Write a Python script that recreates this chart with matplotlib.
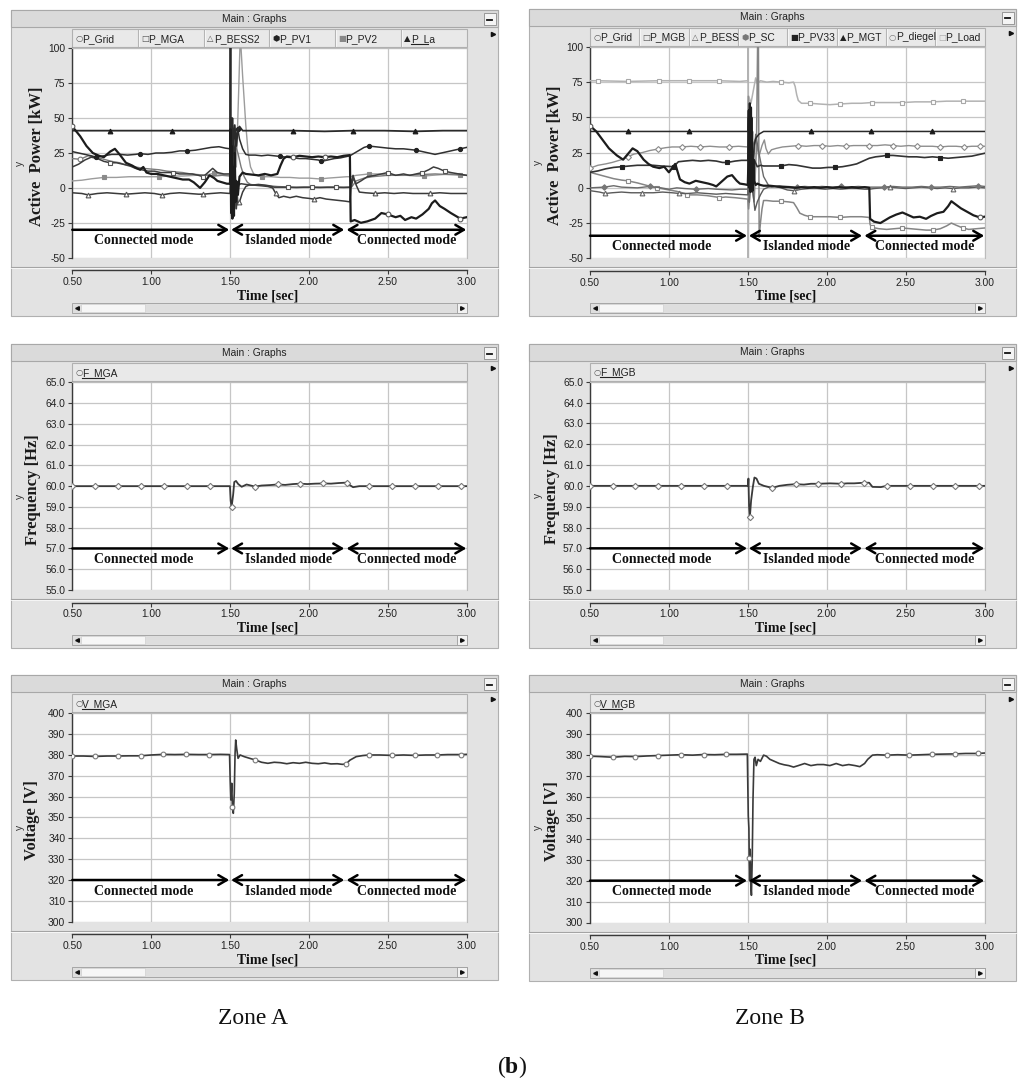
import numpy as np
import matplotlib
matplotlib.use("Agg")
import matplotlib.pyplot as plt
from matplotlib.patches import Rectangle
from matplotlib import font_manager

# ---------------------------------------------------------------- data
x_ticks = [0.50, 1.00, 1.50, 2.00, 2.50, 3.00]
p_ticks = [-50, -25, 0, 25, 50, 75, 100]
f_ticks = [55.0, 56.0, 57.0, 58.0, 59.0, 60.0, 61.0, 62.0, 63.0, 64.0, 65.0]
v_ticks = [300, 310, 320, 330, 340, 350, 360, 370, 380, 390, 400]
mode_labels = ["Connected mode", "Islanded mode", "Connected mode"]

legend_a = ["P_Grid", "P_MGA", "P_BESS2", "P_PV1", "P_PV2", "P_La"]
legend_b = ["P_Grid", "P_MGB", "P_BESS", "P_SC", "P_PV33", "P_MGT", "P_diegel", "P_Load"]

# ---- Zone A, active power [kW]
a_grid_t = [0.50, 0.55, 0.59, 0.63, 0.67, 0.70, 0.74, 0.77, 0.80, 0.84, 0.88, 0.91, 0.93, 0.95, 0.97, 1.00,
            1.04, 1.08, 1.12, 1.16, 1.20, 1.24, 1.27, 1.29, 1.31, 1.34, 1.37, 1.40, 1.42, 1.45, 1.48, 1.50,
            1.503, 1.507, 1.511, 1.515, 1.52, 1.525, 1.53, 1.535, 1.54, 1.55, 1.56, 1.58, 1.60,
            1.64, 1.68, 1.72, 1.76, 1.80, 1.82, 1.84, 1.86, 1.90, 1.94, 1.98, 2.02, 2.06, 2.10, 2.14, 2.18, 2.22, 2.26,
            2.265, 2.29, 2.33, 2.37, 2.42, 2.46, 2.50, 2.55, 2.58, 2.61, 2.65, 2.68, 2.72, 2.76, 2.78, 2.80,
            2.83, 2.86, 2.90, 2.93, 2.96, 3.00]
a_grid_v = [44, 37, 30, 25, 23, 22, 26, 28, 24, 18, 16, 14, 13, 15, 11, 10,
            10, 9, 8, 7, 6, 6, 4, 2, 0, 4, 9, 7, 5, 4, 3, 3,
            42, -18, 30, -22, 15, -20, 25, -10, 5, -5, 8, 11, 10,
            9.5, 9, 10, 9, 10, 16, 21, 22.5, 22, 23, 22.5, 22, 22.5, 22, 22.5, 22, 23, 23.5,
            -24, -23, -25, -24, -22, -18, -19, -21, -20, -23, -21, -22, -19, -15, -11, -9,
            -13, -15, -18, -20, -22, -21]
a_grid_mk = [0.50, 1.90, 2.10, 2.50, 2.96]

a_mga_t = [0.50, 0.54, 0.58, 0.62, 0.66, 0.70, 0.74, 0.78, 0.82, 0.86, 0.90, 0.94, 0.98, 1.02, 1.06, 1.10,
           1.14, 1.18, 1.22, 1.26, 1.30, 1.33, 1.36, 1.39, 1.42, 1.46, 1.50,
           1.505, 1.51, 1.515, 1.52, 1.53, 1.54, 1.55, 1.57, 1.60,
           1.64, 1.68, 1.72, 1.75, 1.78, 1.82, 1.87, 1.92, 1.97, 2.02, 2.07, 2.12, 2.17, 2.22, 2.26,
           2.27, 2.28, 2.30, 2.33, 2.37, 2.42, 2.46, 2.50, 2.55, 2.60, 2.64, 2.68, 2.72, 2.76, 2.79, 2.82,
           2.86, 2.90, 2.95, 3.00]
a_mga_v = [15, 17, 20, 22, 21, 19, 18, 18, 17, 16, 14, 13, 12, 12, 11, 11,
           11, 10, 10, 10, 9, 8, 11, 14, 11, 10, 10,
           25, -5, 40, 0, 20, -15, 2, 3, 2.5,
           2, 2.5, 2, 1.5, 0.5, 0.5, 0.5, 0.3, 0.5, 0.5, 0.3, 0.5, 0.5, 0.3, 0.5,
           1, 7, 3, 5, 8, 9, 10, 11, 9, 10, 9, 10, 11, 13, 15, 14,
           12, 11, 10, 9]
a_mga_mk = [0.74, 1.14, 1.33, 1.87, 2.02, 2.17, 2.50, 2.72, 2.86]

a_bess_t = [0.50, 0.56, 0.60, 0.66, 0.72, 0.78, 0.84, 0.90, 0.96, 1.02, 1.07, 1.12, 1.18, 1.24, 1.30, 1.33,
            1.38, 1.44, 1.50,
            1.505, 1.51, 1.52, 1.53, 1.54, 1.55, 1.56, 1.58, 1.60, 1.62,
            1.65, 1.70, 1.74, 1.77, 1.79, 1.81, 1.84, 1.88, 1.92, 1.96, 2.00, 2.03, 2.07, 2.11, 2.15, 2.19,
            2.23, 2.26,
            2.27, 2.28, 2.30, 2.32, 2.36, 2.42, 2.48, 2.54, 2.60, 2.66, 2.72, 2.77, 2.83, 2.90, 2.96, 3.00]
a_bess_v = [-3.5, -4, -5, -4, -3.5, -4, -4.5, -4, -3.5, -4, -5, -4, -3.5, -4, -4.5, -4.5,
            -4, -3.5, -4,
            10, -20, 15, -15, 5, -12, -10, -3, 1, 2,
            2, 1.5, 1, 0, -4, -7, -6, -7, -6, -7, -7.5, -8, -7, -8, -8.5, -9,
            -9.5, -10,
            5, 9, 2, -3, -3.5, -4, -3.5, -4, -3.5, -4, -4, -4, -3.5, -4, -4, -4]
a_bess_mk = [0.60, 0.84, 1.07, 1.33, 1.56, 1.79, 2.03, 2.42, 2.77]

a_pv1_t = [0.50, 0.54, 0.58, 0.62, 0.65, 0.70, 0.75, 0.80, 0.85, 0.90, 0.93, 0.98, 1.03, 1.08, 1.13, 1.18,
           1.23, 1.28, 1.33, 1.38, 1.43, 1.47, 1.50,
           1.505, 1.51, 1.52, 1.53, 1.54, 1.55, 1.56, 1.58, 1.60, 1.62,
           1.66, 1.70, 1.74, 1.78, 1.82, 1.86, 1.90, 1.94, 1.98, 2.02, 2.06, 2.08, 2.12, 2.16, 2.20, 2.24, 2.26,
           2.29, 2.32, 2.35, 2.38, 2.42, 2.46, 2.50, 2.55, 2.60, 2.64, 2.68, 2.72, 2.76, 2.80, 2.84, 2.88,
           2.92, 2.96, 3.00]
a_pv1_v = [26, 25, 24, 23, 22, 23, 24, 24, 23.5, 24, 24.5, 24, 25, 25, 25.5, 26.5,
           26.5, 27, 28, 29, 29.5, 28.5, 28,
           35, 10, 40, 20, 38, 42, 35, 28, 24, 23.5,
           23.5, 23, 23.5, 23, 22.5, 22, 21.5, 21, 21, 20.5, 20, 19, 20, 21, 21.5, 22.5, 23,
           25, 27, 29, 30, 29.5, 29, 28.5, 28, 28, 27.5, 27, 26, 25, 24, 25, 26,
           27, 28, 29]
a_pv1_mk = [0.65, 0.93, 1.23, 1.55, 1.82, 2.08, 2.38, 2.68, 2.96]

a_pv2_t = [0.50, 0.56, 0.62, 0.70, 0.78, 0.86, 0.94, 1.02, 1.05, 1.12, 1.20, 1.28, 1.36, 1.40, 1.45, 1.50,
           1.505, 1.52, 1.54, 1.555, 1.565, 1.58, 1.60, 1.615, 1.63, 1.65, 1.68,
           1.70, 1.76, 1.82, 1.88, 1.94, 2.00, 2.06, 2.08, 2.12, 2.18, 2.24, 2.26,
           2.30, 2.34, 2.38, 2.44, 2.50, 2.56, 2.62, 2.68, 2.73, 2.78, 2.84, 2.90, 2.96, 3.00]
a_pv2_v = [5, 5.5, 6.5, 7.5, 7.5, 8, 8, 8, 8, 8.5, 8.5, 9, 9.5, 10.5, 9.5, 9,
           20, 30, 15, 70, 110, 80, 45, 25, 15, 10, 8.5,
           8, 8, 7.5, 7.5, 7, 7, 6.5, 6.5, 7, 7.5, 8, 8,
           9, 9.5, 10, 10, 9.5, 9, 9, 8.5, 8.5, 9, 9.5, 10, 9.5, 9]
a_pv2_mk = [0.70, 1.05, 1.40, 1.70, 2.08, 2.38, 2.73, 2.96]

a_la_t = [0.50, 0.74, 0.94, 1.13, 1.30, 1.50, 1.502, 1.504, 1.506, 1.51, 1.515, 1.52, 1.53, 1.54, 1.55,
          1.56, 1.58, 1.62, 1.75, 1.90, 2.10, 2.28, 2.48, 2.67, 2.85, 3.00]
a_la_v = [41, 41, 41, 41, 41, 41, 110, 110, 10, 15, 50, 25, 45, 30, 42,
          44, 41, 41, 41, 41, 40.5, 41, 41, 40.5, 41, 41]
a_la_mk = [0.74, 1.13, 1.90, 2.28, 2.67]

a_aux_t = [0.50, 0.55, 0.60, 0.65, 0.70, 0.75, 0.80, 0.85, 0.90, 0.95, 1.00, 1.05, 1.10, 1.15, 1.20, 1.25,
           1.30, 1.35, 1.40, 1.45, 1.50,
           1.505, 1.515, 1.525, 1.535, 1.55, 1.57, 1.59, 1.61, 1.63, 1.66,
           1.70, 1.75, 1.80, 1.90, 2.00, 2.10, 2.20, 2.26,
           2.27, 2.30, 2.35, 2.40, 2.50, 2.60, 2.70, 2.80, 2.90, 3.00]
a_aux_v = [21, 20.5, 23, 22, 20.5, 19, 18, 16, 15, 14, 13.5, 13, 12, 11.5, 11, 10,
           9.5, 9, 8.5, 9, 8.5,
           30, 10, 28, 30, 25, 15, 8, 4, 2.5, 2,
           2, 1.5, 1, 0.5, 0.5, 0.5, 0.5, 0.5,
           0.5, 5, 7, 8, 9, 9, 9.5, 10, 9.5, 9]
a_aux_mk = [0.55]

# ---- Zone B, active power [kW]
b_grid_t = [0.50, 0.54, 0.58, 0.62, 0.67, 0.71, 0.74, 0.77, 0.80, 0.84, 0.87, 0.90, 0.94, 0.97, 1.00, 1.02,
            1.04, 1.07, 1.10, 1.13, 1.17, 1.21, 1.25, 1.28, 1.30, 1.34, 1.37, 1.40, 1.43, 1.45, 1.48, 1.50,
            1.503, 1.507, 1.51, 1.513, 1.517, 1.52, 1.523, 1.527, 1.53, 1.535, 1.54, 1.55, 1.56, 1.58, 1.60,
            1.64, 1.68, 1.72, 1.76, 1.80, 1.84, 1.88, 1.92, 1.96, 2.00, 2.04, 2.08, 2.12, 2.16, 2.20, 2.24, 2.27,
            2.275, 2.30, 2.34, 2.37, 2.40, 2.44, 2.48, 2.51, 2.55, 2.59, 2.63, 2.66, 2.70, 2.74, 2.77, 2.79,
            2.82, 2.85, 2.89, 2.93, 2.97, 3.00]
b_grid_v = [44, 40, 34, 28, 23, 20, 24, 28, 26, 20, 17, 15, 14, 15, 11, 14,
            17, 6, 4, 3, 5, 4, 3, 2, 1, 5, 8, 9, 5, 3, 2.5, 2,
            15, 55, 0, 60, -3, 57, 5, 40, -2, 20, 5, 2, 3, 2, 1.5,
            1.5, 1, 0.5, 0.5, 0, 0.5, 0, 0.5, 0, 0.5, 0, 0.5, 0, 0.5, 0, 0.5, 0,
            -22, -24, -25, -23, -21, -19, -17.5, -19, -21, -20.5, -22, -20, -18, -17, -13, -9.5,
            -12, -14.5, -17, -19.5, -21, -20.5]
b_grid_mk = [0.50, 2.97]

b_mgb_t = [0.50, 0.55, 0.60, 0.65, 0.70, 0.738, 0.80, 0.85, 0.90, 0.927, 1.00, 1.05, 1.10, 1.117, 1.18, 1.24,
           1.30, 1.32, 1.36, 1.42, 1.46, 1.50,
           1.505, 1.52, 1.54, 1.555, 1.563, 1.567, 1.572, 1.58, 1.59, 1.60, 1.62,
           1.66, 1.712, 1.76, 1.79, 1.81, 1.83, 1.86, 1.895, 1.95, 2.02, 2.085, 2.15, 2.22, 2.27,
           2.275, 2.284, 2.33, 2.38, 2.43, 2.48, 2.53, 2.58, 2.63, 2.674, 2.72, 2.76, 2.79, 2.82, 2.863, 2.90,
           2.95, 3.00]
b_mgb_v = [11, 9.5, 8, 6.5, 5.5, 5, 3.5, 2, 0.5, 0, -1.5, -2.5, -4, -5, -5, -5.5,
           -6.5, -7, -6.5, -7, -7.5, -8,
           -15, 5, -10, 30, 110, 110, -35, -25, -15, -9, -9,
           -9.5, -9.5, -10, -10.5, -14, -18, -19.5, -20.5, -20.5, -20.5, -21, -20.5, -20.5, -21,
           -26, -28, -29, -29.5, -29, -28.5, -29, -29.5, -30, -30, -29, -27, -25, -26.5, -28.5, -29.5,
           -29, -28.5]
b_mgb_mk = [0.738, 0.927, 1.117, 1.32, 1.712, 1.895, 2.085, 2.284, 2.48, 2.674, 2.863]

b_bess_t = [0.50, 0.56, 0.597, 0.64, 0.70, 0.76, 0.832, 0.90, 0.96, 1.02, 1.067, 1.12, 1.18, 1.24, 1.30, 1.36,
            1.42, 1.50,
            1.505, 1.51, 1.52, 1.53, 1.545, 1.56, 1.58, 1.60, 1.63,
            1.67, 1.71, 1.75, 1.79, 1.84, 1.89, 1.94, 1.99, 2.04, 2.09, 2.14, 2.19, 2.24, 2.27,
            2.30, 2.35, 2.40, 2.45, 2.50, 2.55, 2.60, 2.65, 2.70, 2.75, 2.80, 2.85, 2.90, 2.95, 3.00]
b_bess_v = [-2, -3, -4, -3.5, -3, -3.5, -3.5, -3.5, -3, -3.5, -4, -4, -3.5, -4, -4.5, -4,
            -4.5, -5,
            15, -10, 25, 0, -16, -10, -5, -1, 0.5,
            1, 0, -1.5, -2, -1, -0.5, -0.5, -1, -0.5, -1, -0.5, -0.5, -1, -1,
            -0.5, 0, 0.5, 0, -0.5, 0, 0.5, 0, -0.5, 0, -0.5, 0, 0, 0.5, 0]
b_bess_mk = [0.597, 0.832, 1.067, 1.79, 2.40, 2.80]

b_sc_t = [0.50, 0.59, 0.65, 0.70, 0.80, 0.88, 0.95, 1.00, 1.05, 1.10, 1.17, 1.25, 1.30, 1.40, 1.45, 1.50,
          1.505, 1.51, 1.52, 1.53, 1.55, 1.57, 1.60, 1.63, 1.65,
          1.70, 1.75, 1.81, 1.86, 1.92, 1.97, 2.03, 2.09, 2.14, 2.20, 2.26,
          2.30, 2.36, 2.42, 2.48, 2.54, 2.60, 2.66, 2.72, 2.78, 2.84, 2.90, 2.96, 3.00]
b_sc_v = [0, 0.5, 1.5, 0.5, 0, 1, 0, -1, 0, -0.5, -1, -0.5, -1, -1.5, -1, -1,
          30, -10, 45, 10, 38, 25, 8, 2, 0.5,
          1.5, 1, 0.5, 1, 0.5, 1, 0.5, 1, 0.5, 1, 0.5,
          0.5, 0.5, 1, 0.5, 0.5, 1, 0.5, 0.5, 1, 0.5, 1, 1.5, 1]
b_sc_mk = [0.59, 0.88, 1.17, 1.81, 2.09, 2.36, 2.66, 2.96]

b_pv33_t = [0.50, 0.55, 0.60, 0.65, 0.70, 0.75, 0.80, 0.85, 0.90, 0.95, 1.03, 1.06, 1.10, 1.15, 1.20, 1.25,
            1.30, 1.34, 1.37, 1.42, 1.46, 1.50,
            1.505, 1.51, 1.52, 1.53, 1.54, 1.56, 1.58, 1.60,
            1.65, 1.71, 1.76, 1.81, 1.86, 1.91, 1.96, 2.01, 2.05, 2.10, 2.15, 2.19, 2.23, 2.27,
            2.31, 2.35, 2.38, 2.42, 2.47, 2.52, 2.57, 2.62, 2.67, 2.72, 2.77, 2.82, 2.87, 2.92, 2.96, 3.00]
b_pv33_v = [11, 12, 13.5, 14.5, 15, 15.5, 16, 16, 16, 15.5, 15, 18.5, 19, 19.5, 19, 19.5,
            19, 18, 18, 19, 19.5, 19.5,
            50, 10, 30, -3, 20, 15, 16, 15.5,
            15.5, 15.5, 16.5, 16, 15, 14, 14, 14.5, 14.5, 15, 16, 17, 19, 21,
            22, 22.5, 23, 23, 22.5, 22, 22, 21.5, 22, 21.5, 21, 21.5, 22, 22.5, 23.5, 24.5]
b_pv33_mk = [0.70, 1.03, 1.37, 1.71, 2.05, 2.38, 2.72]

b_mgt_t = [0.50, 0.74, 1.00, 1.13, 1.30, 1.50, 1.505, 1.51, 1.515, 1.52, 1.525, 1.53, 1.54, 1.55, 1.57,
           1.60, 1.70, 1.90, 2.10, 2.28, 2.50, 2.67, 2.85, 3.00]
b_mgt_v = [40, 40, 40, 40, 40, 40, 55, 20, 45, -2, 50, 10, 30, 35, 38,
           40, 40, 40, 40, 40, 40, 40, 40, 40]
b_mgt_mk = [0.74, 1.13, 1.90, 2.28, 2.67]

b_dieg_t = [0.50, 0.55, 0.60, 0.64, 0.70, 0.74, 0.78, 0.83, 0.88, 0.93, 0.98, 1.02, 1.08, 1.14, 1.20, 1.26,
            1.32, 1.38, 1.44, 1.50,
            1.503, 1.51, 1.52, 1.53, 1.55, 1.57, 1.59, 1.605, 1.615, 1.63, 1.65,
            1.68, 1.72, 1.77, 1.82, 1.87, 1.92, 1.97, 2.02, 2.07, 2.12, 2.17, 2.22, 2.27,
            2.32, 2.37, 2.42, 2.47, 2.52, 2.57, 2.62, 2.67, 2.72, 2.77, 2.82, 2.87, 2.92, 2.97, 3.00]
b_dieg_v = [14, 16, 17, 18, 20, 22, 24, 25, 26.5, 27.5, 28.5, 29, 29, 29.5, 29, 29.5,
            29, 29, 29.5, 29,
            65, 40, 55, 30, 35, 22, 30, 34, 28, 24, 27,
            28, 29, 29.5, 30, 29.5, 30, 30, 29.5, 30, 29.5, 30, 30, 30,
            30, 30.5, 30, 29.5, 30, 29.5, 29.5, 29.5, 29, 29.5, 29.5, 29, 29.5, 29.5, 29.5]
b_dieg_mk = [0.50, 0.74, 0.93, 1.08, 1.20, 1.38, 1.82, 1.97, 2.12, 2.27, 2.42, 2.57, 2.72, 2.87, 2.97]

b_load_t = [0.50, 0.548, 0.738, 0.938, 1.127, 1.32, 1.45, 1.50, 1.5015, 1.503, 1.506, 1.52, 1.54, 1.55, 1.56,
            1.58, 1.62, 1.66, 1.712, 1.76, 1.79, 1.80, 1.81, 1.82, 1.84, 1.895, 1.95, 2.02, 2.085, 2.16,
            2.22, 2.284, 2.36, 2.48, 2.56, 2.674, 2.76, 2.863, 2.95, 3.00]
b_load_v = [76, 76, 75.5, 76, 76, 76, 75.5, 76, 110, -60, 65, 60, 72, 78, 74,
            76, 75, 75.5, 75, 74.5, 75, 72, 66, 62, 60, 60, 59.5, 59, 59.5, 60,
            60, 60.5, 60.5, 60.5, 61, 61, 61.5, 61.5, 61.5, 61.5]
b_load_mk = [0.548, 0.738, 0.938, 1.127, 1.32, 1.712, 1.895, 2.085, 2.284, 2.48, 2.674, 2.863]

# ---- Frequency [Hz]
fa_t = [0.50, 0.645, 0.79, 0.935, 1.08, 1.225, 1.37, 1.4996, 1.504, 1.51, 1.52, 1.527, 1.538, 1.552,
        1.574, 1.605, 1.658, 1.70, 1.75, 1.802, 1.85, 1.90, 1.943, 1.99, 2.04, 2.091, 2.14, 2.19, 2.239,
        2.26, 2.28, 2.32, 2.383, 2.529, 2.672, 2.816, 2.962, 3.00]
fa_v = [60.0, 60.0, 60.0, 60.0, 60.0, 60.0, 60.0, 60.0, 59.3, 59.0, 59.6, 60.2, 60.25, 60.1,
        59.97, 60.08, 59.98, 60.03, 60.05, 60.08, 60.06, 60.1, 60.12, 60.1, 60.12, 60.13, 60.12, 60.15, 60.17,
        60.05, 59.95, 60.0, 60.0, 60.0, 60.0, 60.0, 60.0, 60.0]
fa_mk = [0.50, 0.645, 0.79, 0.935, 1.08, 1.225, 1.37, 1.51, 1.658, 1.802, 1.943, 2.091, 2.239,
         2.383, 2.529, 2.672, 2.816, 2.962]

fb_t = [0.50, 0.644, 0.788, 0.934, 1.078, 1.222, 1.369, 1.502, 1.504, 1.508, 1.513, 1.521, 1.532, 1.542,
        1.555, 1.57, 1.602, 1.655, 1.70, 1.75, 1.803, 1.856, 1.90, 1.947, 2.02, 2.093, 2.13, 2.174, 2.237,
        2.269, 2.29, 2.343, 2.381, 2.527, 2.672, 2.816, 2.962, 3.00]
fb_v = [60.0, 60.0, 60.0, 60.0, 60.0, 60.0, 60.0, 60.0, 60.35, 59.0, 58.5, 59.3, 59.95, 60.4,
        60.35, 60.1, 60.0, 59.9, 60.0, 60.05, 60.08, 60.06, 60.1, 60.1, 60.12, 60.1, 60.12, 60.12, 60.15,
        60.15, 59.95, 59.94, 60.0, 60.0, 60.0, 60.0, 60.0, 60.0]
fb_mk = [0.50, 0.644, 0.788, 0.934, 1.078, 1.222, 1.369, 1.513, 1.655, 1.803, 1.947, 2.093, 2.237,
         2.381, 2.527, 2.672, 2.816, 2.962]

# ---- Voltage [V]
va_t = [0.50, 0.57, 0.644, 0.72, 0.788, 0.86, 0.934, 1.00, 1.078, 1.15, 1.222, 1.30, 1.368, 1.44, 1.497,
        1.501, 1.505, 1.511, 1.515, 1.521, 1.527, 1.532, 1.536, 1.542, 1.551, 1.564, 1.59, 1.62, 1.66,
        1.70, 1.74, 1.78, 1.82, 1.86, 1.90, 1.94, 1.98, 2.02, 2.06, 2.10, 2.14, 2.18, 2.212, 2.236,
        2.26, 2.30, 2.34, 2.38, 2.45, 2.528, 2.60, 2.67, 2.74, 2.814, 2.88, 2.962, 3.00]
va_v = [379.5, 379.5, 379.3, 379.5, 379.5, 379.6, 379.6, 380.0, 380.3, 380.2, 380.3, 380.2, 380.2, 380.3, 380.2,
        368, 358.4, 366.4, 355.2, 352, 361.6, 380.8, 387.2, 383.2, 378.4, 380, 379.2, 378.5, 377.6,
        376.5, 376, 376.5, 376.3, 375.8, 376.3, 376, 376.5, 376, 375.8, 376.2, 375.7, 375.8, 375.5, 375.7,
        377.5, 379.2, 379.7, 380, 380, 379.8, 380, 379.8, 380, 380, 380.2, 380.2, 380.3]
va_mk = [0.50, 0.644, 0.788, 0.934, 1.078, 1.222, 1.368, 1.515, 1.66, 2.236, 2.38, 2.528, 2.67, 2.814, 2.962]

vb_t = [0.50, 0.57, 0.644, 0.72, 0.788, 0.86, 0.93, 1.00, 1.074, 1.15, 1.22, 1.29, 1.364, 1.43, 1.497,
        1.503, 1.507, 1.509, 1.512, 1.515, 1.519, 1.523, 1.528, 1.533, 1.539, 1.546, 1.554, 1.565, 1.58,
        1.60, 1.618, 1.64, 1.67, 1.70, 1.73, 1.76, 1.79, 1.82, 1.86, 1.90, 1.94, 1.98, 2.02, 2.06, 2.10,
        2.14, 2.18, 2.21, 2.24, 2.26, 2.29, 2.32, 2.38, 2.45, 2.524, 2.60, 2.67, 2.74, 2.814, 2.88, 2.956, 3.00]
vb_v = [379.5, 379.3, 379.0, 379.4, 379.3, 379.6, 379.8, 380.0, 380.2, 380.0, 380.3, 380.2, 380.4, 380.4, 380.5,
        351, 345, 331, 320, 335, 318, 313, 330, 359, 378, 379, 375, 378, 377,
        380, 379.5, 378, 377, 376, 375.4, 375, 374.3, 375, 376, 375, 375.5, 375.5, 375, 376, 375,
        375.5, 375, 374.5, 376, 378, 380, 380.2, 380, 380.2, 380, 380.2, 380.4, 380.5, 380.6, 380.8, 380.8, 381]
vb_mk = [0.50, 0.644, 0.788, 0.93, 1.074, 1.22, 1.364, 1.509, 2.38, 2.524, 2.67, 2.814, 2.956]

# ---------------------------------------------------------------- styles
fonts = {f.name for f in font_manager.fontManager.ttflist}
SANS = "Liberation Sans Narrow" if "Liberation Sans Narrow" in fonts else "Liberation Sans"
SK = 1.0 if SANS == "Liberation Sans Narrow" else 0.92
SERIF = "Liberation Serif"
plt.rcParams["mathtext.fontset"] = "custom"
plt.rcParams["mathtext.rm"] = SERIF
plt.rcParams["mathtext.bf"] = SERIF + ":bold"

def st(c, lw, m, mfc, mec, ms=3.4):
    return dict(color=c, lw=lw, marker=m, mfc=mfc, mec=mec, ms=ms)

STY = {
    "a_grid": st("#1c1c1c", 1.6, "o", "white", "#555555"),
    "a_mga": st("#3c3c3c", 1.1, "s", "white", "#555555"),
    "a_bess": st("#3a3a3a", 1.1, "^", "white", "#555555"),
    "a_pv1": st("#303030", 1.1, "o", "#222222", "#222222", 3.0),
    "a_pv2": st("#9c9c9c", 1.0, "s", "#8a8a8a", "#8a8a8a"),
    "a_la": st("#2a2a2a", 1.3, "^", "#1a1a1a", "#1a1a1a"),
    "a_aux": st("#7a7a7a", 1.0, "o", "white", "#7a7a7a"),
    "b_grid": st("#1c1c1c", 1.6, "o", "white", "#555555"),
    "b_mgb": st("#858585", 1.1, "s", "white", "#8a8a8a"),
    "b_bess": st("#5a5a5a", 1.0, "^", "white", "#666666"),
    "b_sc": st("#6a6a6a", 1.0, "D", "#777777", "#777777", 2.8),
    "b_pv33": st("#333333", 1.2, "s", "#222222", "#222222"),
    "b_mgt": st("#2a2a2a", 1.1, "^", "#1a1a1a", "#1a1a1a"),
    "b_dieg": st("#8e8e8e", 1.0, "D", "white", "#8a8a8a", 3.0),
    "b_load": st("#b2b2b2", 1.1, "s", "white", "#a8a8a8"),
    "freq": st("#3a3a3a", 1.3, "D", "white", "#7a7a7a", 3.2),
    "volt": st("#3a3a3a", 1.2, "o", "white", "#7a7a7a", 3.4),
}

W, H = 1024, 1084
fig = plt.figure(figsize=(W / 100, H / 100), dpi=100)
fig.patch.set_facecolor("white")
bg = fig.add_axes([0, 0, 1, 1])
bg.set_xlim(0, W)
bg.set_ylim(H, 0)
bg.axis("off")

WIN = "#e3e3e3"

def draw_window(px0, py0, px1, py1, legend, syms, underline_last):
    x0, x1 = px0 - 61, px1 + 31
    y0, y1 = py0 - 38, py1 + 58
    bg.add_patch(Rectangle((x0, y0), x1 - x0, y1 - y0, fc=WIN, ec="#b0b0b0", lw=0.8, zorder=1))
    bg.add_patch(Rectangle((x0, y0), x1 - x0, 17, fc="#dadada", ec="#a8a8a8", lw=0.8, zorder=2))
    bg.text((x0 + x1) / 2, y0 + 8.5, "Main : Graphs", ha="center", va="center",
            fontsize=8 * SK, family=SANS, color="#222222", zorder=3)
    bg.add_patch(Rectangle((x1 - 14, y0 + 3), 12, 12, fc="#f4f4f4", ec="#8c8c8c", lw=0.6, zorder=3))
    bg.plot([x1 - 10.5, x1 - 5.5], [y0 + 9.5, y0 + 9.5], color="#111111", lw=1.3, zorder=4)
    bg.plot([x1 - 5], [y0 + 24], marker=">", ms=3, color="#111111", zorder=4)
    # legend bar
    ly0, ly1 = py0 - 19, py0 - 1
    bg.add_patch(Rectangle((px0, ly0), px1 - px0, ly1 - ly0, fc="#e9e9e9", ec="#b0b0b0", lw=0.8, zorder=2))
    n = max(len(legend), 1)
    cw = (px1 - px0) / n if len(legend) > 1 else (px1 - px0)
    for i, (name, (sym, sc)) in enumerate(zip(legend, syms)):
        cx = px0 + i * cw
        if len(legend) > 1 and i > 0:
            bg.plot([cx, cx], [ly0 + 1, ly1 - 1], color="#b5b5b5", lw=0.8, zorder=3)
            bg.plot([cx + 1, cx + 1], [ly0 + 1, ly1 - 1], color="#f8f8f8", lw=0.6, zorder=3)
        bg.text(cx + 3, (ly0 + ly1) / 2 + 0.5, sym, ha="left", va="center", fontsize=6,
                family=["DejaVu Sans"], color=sc, zorder=4)
        bg.text(cx + 10, (ly0 + ly1) / 2 + 0.5, name, ha="left", va="center", fontsize=8 * SK,
                family=SANS, color="#222222", zorder=4)
        if underline_last and i == len(legend) - 1:
            bg.plot([cx + 10, cx + 10 + len(name) * 4.3], [ly1 - 3.5, ly1 - 3.5], color="#222222", lw=0.8, zorder=4)
    # separator and scroll bar
    bg.plot([x0, x1], [py1 + 9, py1 + 9], color="#a4a4a4", lw=0.8, zorder=2)
    bg.plot([x0, x1], [py1 + 10, py1 + 10], color="#fafafa", lw=0.6, zorder=2)
    sy = py1 + 45
    bg.add_patch(Rectangle((px0, sy), px1 - px0, 10, fc="#dedede", ec="#9c9c9c", lw=0.6, zorder=2))
    bg.add_patch(Rectangle((px0 + 9, sy + 1), 64, 8, fc="#f6f6f6", ec="#c8c8c8", lw=0.4, zorder=3))
    bg.add_patch(Rectangle((px1 - 10, sy), 10, 10, fc="#f2f2f2", ec="#9c9c9c", lw=0.6, zorder=3))
    bg.plot([px0 + 4.5], [sy + 5], marker="<", ms=2.6, color="#111111", zorder=4)
    bg.plot([px1 - 5], [sy + 5], marker=">", ms=2.6, color="#111111", zorder=4)
    bg.text((px0 + px1) / 2 - 2, py1 + 38, "Time [sec]", ha="center", va="center", fontsize=10,
            fontweight="bold", family=SERIF, color="#111111", zorder=4)


def panel(px0, py0, px1, py1, ylim, yticks, ylabels, ylab, lab_x, legend, syms, underline,
          series, arrow_y, text_y):
    draw_window(px0, py0, px1, py1, legend, syms, underline)
    ax = fig.add_axes([px0 / W, 1 - py1 / H, (px1 - px0) / W, (py1 - py0) / H])
    ax.set_facecolor("white")
    ax.set_xlim(0.5, 3.0)
    ax.set_ylim(*ylim)
    ax.set_axisbelow(True)
    ax.grid(True, color="#c6c6c6", lw=0.9)
    for sp in ("top", "right"):
        ax.spines[sp].set_color("#bcbcbc")
        ax.spines[sp].set_linewidth(0.8)
    ax.spines["left"].set_color("#3a3a3a")
    ax.spines["left"].set_linewidth(1.0)
    ax.spines["bottom"].set_position(("outward", 9))
    ax.spines["bottom"].set_color("#3a3a3a")
    ax.spines["bottom"].set_linewidth(1.0)
    ax.set_xticks(x_ticks, ["%.2f" % x for x in x_ticks])
    ax.set_yticks(yticks, ylabels)
    ax.tick_params(axis="both", direction="out", length=3, width=0.8, color="#3a3a3a",
                   labelsize=8 * SK, labelcolor="#222222")
    ax.tick_params(axis="x", pad=2)
    ax.tick_params(axis="y", pad=2)
    for lbl in ax.get_xticklabels() + ax.get_yticklabels():
        lbl.set_fontfamily(SANS)
    for t, v, mk, key in series:
        t = np.asarray(t, float)
        v = np.asarray(v, float)
        idx = sorted({int(np.argmin(np.abs(t - m))) for m in mk})
        s = STY[key]
        ax.plot(t, v, color=s["color"], lw=s["lw"], marker=s["marker"], ms=s["ms"],
                mfc=s["mfc"], mec=s["mec"], mew=0.8, markevery=idx, zorder=3)
    # mode arrows and labels
    spans = [(0.5, 1.495, "->"), (1.507, 2.224, "<->"), (2.239, 2.998, "<->")]
    for a, b, style in spans:
        ax.annotate("", xy=(b, arrow_y), xytext=(a, arrow_y), annotation_clip=False,
                    arrowprops=dict(arrowstyle=style + ",head_length=0.55,head_width=0.32",
                                    color="black", lw=1.8, shrinkA=0, shrinkB=0, mutation_scale=11),
                    zorder=6)
    for xc, txt in zip([0.955, 1.87, 2.62], mode_labels):
        ax.text(xc, text_y, txt, ha="center", va="center", fontsize=10, fontweight="bold",
                family=SERIF, color="#111111", zorder=6)
    yc = (py0 + py1) / 2
    bg.text(lab_x, yc + 3, ylab, rotation=90, ha="center", va="center", fontsize=12,
            fontweight="bold", family=SERIF, color="#1a1a1a", zorder=4)
    bg.text(px0 - 52, yc + 10, "y", rotation=90, ha="center", va="center", fontsize=8 * SK,
            family=SANS, color="#333333", zorder=4)
    return ax


LX = (72.3, 466.6)
RX = (590.0, 984.5)

syms_a = [("○", "#555555"), ("□", "#555555"), ("△", "#555555"), ("⬢", "#222222"),
          ("■", "#888888"), ("▲", "#222222")]
syms_b = [("○", "#555555"), ("□", "#555555"), ("△", "#555555"), ("⬢", "#777777"),
          ("■", "#222222"), ("▲", "#222222"), ("○", "#777777"), ("□", "#aaaaaa")]
sym_single = [("○", "#555555")]

p_labels = ["%d" % v for v in p_ticks]
f_labels = ["%.1f" % v for v in f_ticks]
v_labels = ["%d" % v for v in v_ticks]

series_a = [
    (a_pv2_t, a_pv2_v, a_pv2_mk, "a_pv2"),
    (a_aux_t, a_aux_v, a_aux_mk, "a_aux"),
    (a_bess_t, a_bess_v, a_bess_mk, "a_bess"),
    (a_mga_t, a_mga_v, a_mga_mk, "a_mga"),
    (a_pv1_t, a_pv1_v, a_pv1_mk, "a_pv1"),
    (a_la_t, a_la_v, a_la_mk, "a_la"),
    (a_grid_t, a_grid_v, a_grid_mk, "a_grid"),
]
series_b = [
    (b_load_t, b_load_v, b_load_mk, "b_load"),
    (b_dieg_t, b_dieg_v, b_dieg_mk, "b_dieg"),
    (b_mgb_t, b_mgb_v, b_mgb_mk, "b_mgb"),
    (b_bess_t, b_bess_v, b_bess_mk, "b_bess"),
    (b_sc_t, b_sc_v, b_sc_mk, "b_sc"),
    (b_pv33_t, b_pv33_v, b_pv33_mk, "b_pv33"),
    (b_mgt_t, b_mgt_v, b_mgt_mk, "b_mgt"),
    (b_grid_t, b_grid_v, b_grid_mk, "b_grid"),
]

panel(LX[0], 48.3, LX[1], 257.7, (-50, 100), p_ticks, p_labels, "Active  Power [kW]", 37,
      legend_a, syms_a, True, series_a, -30, -37.5)
panel(RX[0], 46.9, RX[1], 258.3, (-50, 100), p_ticks, p_labels, "Active  Power [kW]", 555,
      legend_b, syms_b, False, series_b, -34, -41.5)
panel(LX[0], 382.3, LX[1], 590.0, (55, 65), f_ticks, f_labels, "Frequency [Hz]", 33,
      ["F_MGA"], sym_single, True, [(fa_t, fa_v, fa_mk, "freq")], 57.0, 56.45)
panel(RX[0], 381.7, RX[1], 590.0, (55, 65), f_ticks, f_labels, "Frequency [Hz]", 552,
      ["F_MGB"], sym_single, True, [(fb_t, fb_v, fb_mk, "freq")], 57.0, 56.48)
panel(LX[0], 713.3, LX[1], 921.7, (300, 400), v_ticks, v_labels, "Voltage [V]", 32,
      ["V_MGA"], sym_single, True, [(va_t, va_v, va_mk, "volt")], 320, 314.5)
panel(RX[0], 713.3, RX[1], 922.5, (300, 400), v_ticks, v_labels, "Voltage [V]", 552,
      ["V_MGB"], sym_single, True, [(vb_t, vb_v, vb_mk, "volt")], 320, 314.8)

bg.text(253, 1018, "Zone A", ha="center", va="center", fontsize=17, family=SERIF, color="#111111")
bg.text(770, 1018, "Zone B", ha="center", va="center", fontsize=17, family=SERIF, color="#111111")
bg.text(512, 1067, r"$(\mathbf{b})$", ha="center", va="center", fontsize=17, color="#111111")

fig.savefig("out.png", dpi=100, facecolor="white")
